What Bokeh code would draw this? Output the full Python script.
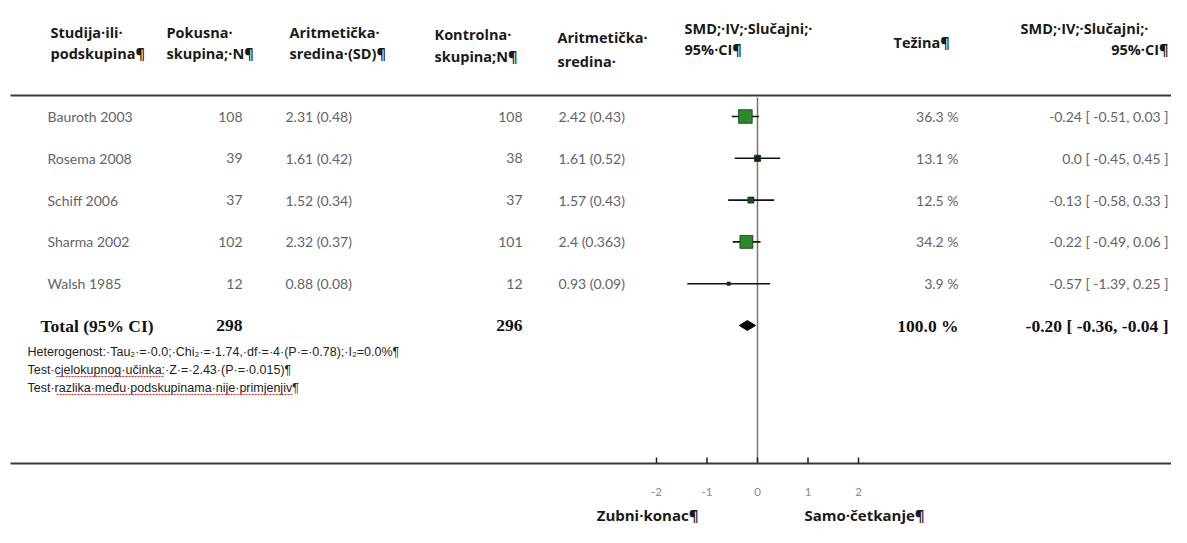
from bokeh.plotting import figure
from bokeh.models import Range1d, ColumnDataSource
from bokeh.core.properties import value
from bokeh.embed import file_html
from bokeh.resources import INLINE

# ---------------- data ----------------
studies = ["Bauroth 2003", "Rosema 2008", "Schiff 2006", "Sharma 2002", "Walsh 1985"]
exp_n = [108, 39, 37, 102, 12]
exp_mean = [2.31, 1.61, 1.52, 2.32, 0.88]
exp_sd = [0.48, 0.42, 0.34, 0.37, 0.08]
ctrl_n = [108, 38, 37, 101, 12]
ctrl_mean = [2.42, 1.61, 1.57, 2.4, 0.93]
ctrl_sd = [0.43, 0.52, 0.43, 0.363, 0.09]
weights = [36.3, 13.1, 12.5, 34.2, 3.9]
smd = [-0.24, 0.0, -0.13, -0.22, -0.57]
ci_low = [-0.51, -0.45, -0.58, -0.49, -1.39]
ci_high = [0.03, 0.45, 0.33, 0.06, 0.25]
marker_colors = ["#2a8a2a", "#0d2a0d", "#1a4d1a", "#2a8a2a", "#222222"]

total_label = "Total (95% CI)"
total_exp_n = 298
total_ctrl_n = 296
total_weight = 100.0
total_smd = -0.20
total_low = -0.36
total_high = -0.04

tick_values = [-2, -1, 0, 1, 2]
tick_labels = ["-2", "-1", "0", "1", "2"]

header_cols = [
    ("Studija·ili·", "podskupina¶"),
    ("Pokusna·", "skupina;·N¶"),
    ("Aritmetička·", "sredina·(SD)¶"),
    ("Kontrolna·", "skupina;N¶"),
    ("Aritmetička·", "sredina·"),
    ("SMD;·IV;·Slučajni;·", "95%·CI¶"),
]
weight_header = "Težina¶"
right_header = ("SMD;·IV;·Slučajni;·", "95%·CI¶")

footnotes = [
    "Heterogenost:·Tau₂·=·0.0;·Chi₂·=·1.74,·df·=·4·(P·=·0.78);·I₂=0.0%¶",
    "Test·cjelokupnog·učinka:·Z·=·2.43·(P·=·0.015)¶",
    "Test·razlika·među·podskupinama·nije·primjenjiv¶",
]
left_label = "Zubni·konac¶"
right_label = "Samo·četkanje¶"

# ---------------- layout ----------------
W, H = 1171, 527
ZERO_PX, UNIT_PX = 757.0, 50.5

p = figure(width=W, height=H, x_range=Range1d(0, W), y_range=Range1d(H, 0),
           output_backend="svg", toolbar_location=None, min_border=0,
           x_axis_location=None, y_axis_location=None)
p.grid.visible = False
p.outline_line_color = None
p.background_fill_color = "white"
p.border_fill_color = "white"
p.extra_x_ranges = {"forest": Range1d((0 - ZERO_PX) / UNIT_PX, (W - ZERO_PX) / UNIT_PX)}

row0, row_step = 116.0, 41.8
row_y = [row0 + i * row_step for i in range(len(studies))]
total_y = row0 + len(studies) * row_step

src = ColumnDataSource(dict(
    y=row_y,
    study=studies,
    en=[str(v) for v in exp_n],
    em=[f"{m} ({s})" for m, s in zip(exp_mean, exp_sd)],
    cn=[str(v) for v in ctrl_n],
    cm=[f"{m} ({s})" for m, s in zip(ctrl_mean, ctrl_sd)],
    w=[f"{w} %" for w in weights],
    ci=[f"{e} [ {l}, {h} ]" for e, l, h in zip(smd, ci_low, ci_high)],
    smd=smd, lo=ci_low, hi=ci_high,
    msize=[2.0 + 0.32 * w for w in weights],
    mcol=marker_colors,
))

row_font = value("Lato")
row_color = "#646464"
row_size = "14px"

def row_text(field, x, align):
    p.text(x=x, y="y", text=field, source=src, text_font=row_font, text_font_size=row_size,
           text_color=row_color, text_align=align, text_baseline="middle")

row_text("study", 47, "left")
row_text("en", 242, "right")
row_text("em", 285, "left")
row_text("cn", 522, "right")
row_text("cm", 558, "left")
row_text("w", 958, "right")
row_text("ci", 1168, "right")

# header
hdr_font = value("Open Sans")
hdr_size = "14.5px"
hdr_color = "#1a1a1a"
hdr_x = [50, 166, 289, 434, 557, 684]
hdr_y1 = [32, 32, 32, 34, 37, 28]
hdr_y2 = [53, 53, 53, 56, 61, 49]
for (l1, l2), hx, y1, y2 in zip(header_cols, hdr_x, hdr_y1, hdr_y2):
    p.text(x=[hx, hx], y=[y1, y2], text=[l1, l2], text_font=hdr_font, text_font_size=hdr_size,
           text_font_style="bold", text_color=hdr_color, text_baseline="middle", text_align="left")
p.text(x=[893], y=[42], text=[weight_header], text_font=hdr_font, text_font_size=hdr_size,
       text_font_style="bold", text_color=hdr_color, text_baseline="middle", text_align="left")
p.text(x=[1020], y=[28], text=[right_header[0]], text_font=hdr_font, text_font_size=hdr_size,
       text_font_style="bold", text_color=hdr_color, text_baseline="middle", text_align="left")
p.text(x=[1168], y=[49], text=[right_header[1]], text_font=hdr_font, text_font_size=hdr_size,
       text_font_style="bold", text_color=hdr_color, text_baseline="middle", text_align="right")

# horizontal rules
p.segment(x0=[10, 10], x1=[W, W], y0=[95, 463], y1=[95, 463], line_color="#3a3a3a", line_width=2.2)

# zero line
p.segment(x0=[0], x1=[0], y0=[97], y1=[463], x_range_name="forest", line_color="#777777", line_width=1.5)

# CIs and markers
p.segment(x0="lo", x1="hi", y0="y", y1="y", source=src, x_range_name="forest",
          line_color="#111111", line_width=1.6)
p.scatter(x="smd", y="y", size="msize", marker="square", source=src, x_range_name="forest",
          fill_color="mcol", line_color="#123512", line_width=0.8)

# total row
tot_font = value("Liberation Serif")
tot_size = "17.5px"
p.text(x=[40], y=[total_y], text=[total_label],
       text_font=tot_font, text_font_size=tot_size, text_font_style="bold", text_color="#111111",
       text_baseline="middle", text_align="left")
p.text(x=[242, 522], y=[total_y] * 2, text=[str(total_exp_n), str(total_ctrl_n)],
       text_font=tot_font, text_font_size=tot_size, text_font_style="bold", text_color="#111111",
       text_baseline="middle", text_align="right")
p.text(x=[958, 1168], y=[total_y] * 2,
       text=[f"{total_weight:.1f} %", f"{total_smd:.2f} [ {total_low:.2f}, {total_high:.2f} ]"],
       text_font=tot_font, text_font_size=tot_size, text_font_style="bold", text_color="#111111",
       text_baseline="middle", text_align="right")
p.patch(x=[total_low, total_smd, total_high, total_smd],
        y=[total_y, total_y - 5, total_y, total_y + 5],
        x_range_name="forest", fill_color="#000000", line_color="#000000")

# footnotes
foot_y = [351, 369, 387]
p.text(x=[27] * 3, y=foot_y, text=footnotes, text_font=value("Liberation Sans"), text_font_size="12.5px",
       text_color="#222222", text_baseline="middle", text_align="left")
# spell-check underlines as shown in the reference screenshot
p.segment(x0=[56, 56], x1=[163, 293], y0=[376, 394], y1=[376, 394],
          line_color="#e03030", line_width=1, line_dash="2 1")

# axis ticks and labels
p.segment(x0=tick_values, x1=tick_values, y0=[457] * 5, y1=[463] * 5, x_range_name="forest",
          line_color="#222222", line_width=1.5)
p.text(x=tick_values, y=[491] * 5, text=tick_labels, x_range_name="forest", text_font=value("Lato"),
       text_font_size="11.5px", text_color="#8a8a8a", text_align="center", text_baseline="middle")

p.text(x=[698], y=[514], text=[left_label], text_font=hdr_font, text_font_size="15px",
       text_font_style="bold", text_color="#1a1a1a", text_align="right", text_baseline="middle")
p.text(x=[804], y=[514], text=[right_label], text_font=hdr_font, text_font_size="15px",
       text_font_style="bold", text_color="#1a1a1a", text_align="left", text_baseline="middle")

open("out.html", "w").write(file_html(p, INLINE))
